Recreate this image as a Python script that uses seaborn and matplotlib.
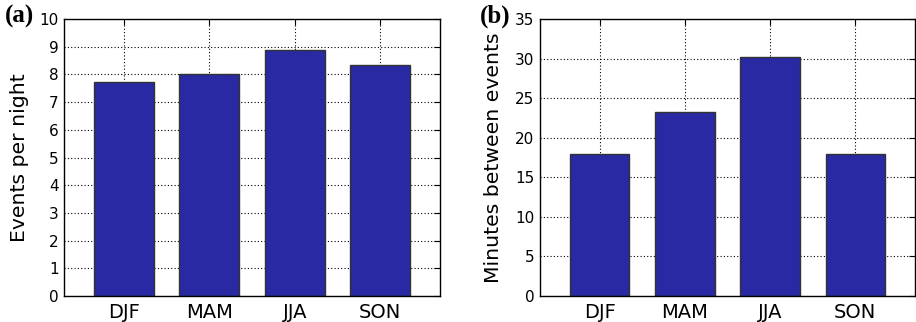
import matplotlib
matplotlib.use("Agg")
import matplotlib.pyplot as plt
import seaborn as sns
import pandas as pd

seasons = ["DJF", "MAM", "JJA", "SON"]
events_per_night = [7.72, 8.0, 8.87, 8.34]
minutes_between = [18.0, 23.28, 30.16, 18.0]

sns.set_style("white")
plt.rcParams["font.family"] = ["DejaVu Sans"]
plt.rcParams["text.color"] = "black"
plt.rcParams["axes.labelcolor"] = "black"
plt.rcParams["xtick.color"] = "black"
plt.rcParams["ytick.color"] = "black"

fig = plt.figure(figsize=(9.16, 3.22), dpi=100)
ax1 = fig.add_axes([64/916, 1-296/322, 376/916, 277/322])
ax2 = fig.add_axes([540/916, 1-296/322, 375/916, 277/322])

bar_color = "#2929a3"

def draw(ax, vals, ylabel, ymax, step, label, lab_x, lpad):
    df = pd.DataFrame({"season": seasons, "value": vals})
    sns.barplot(data=df, x="season", y="value", ax=ax, color=bar_color,
                saturation=1, width=0.7, edgecolor="#333333", linewidth=1, zorder=2)
    ax.set_xlim(-0.7, 3.7)
    ax.set_ylim(0, ymax)
    ax.set_yticks(range(0, ymax + 1, step))
    ax.set_xlabel("")
    ax.set_ylabel(ylabel, fontsize=14.7, labelpad=lpad)
    ax.grid(True, color="black", linestyle=(0, (1, 2)), linewidth=0.8, zorder=3)
    for s in ax.spines.values():
        s.set_color("black")
        s.set_linewidth(1.0)
        s.set_zorder(5)
    ax.tick_params(axis="both", direction="in", top=True, right=True,
                   length=4, width=0.8, color="black", labelcolor="black")
    ax.tick_params(axis="x", labelsize=14, pad=5)
    ax.tick_params(axis="y", labelsize=11, pad=4)
    for gl in ax.get_xgridlines() + ax.get_ygridlines():
        gl.set_zorder(3)
    fig.text(lab_x, 1-16/322, label, fontsize=18, fontweight="bold",
             family="Liberation Serif", ha="left", va="center")

draw(ax1, events_per_night, "Events per night", 10, 1, "(a)", 5/916, 7)
draw(ax2, minutes_between, "Minutes between events", 35, 5, "(b)", 480/916, 9)

fig.savefig("out.png", dpi=100)
